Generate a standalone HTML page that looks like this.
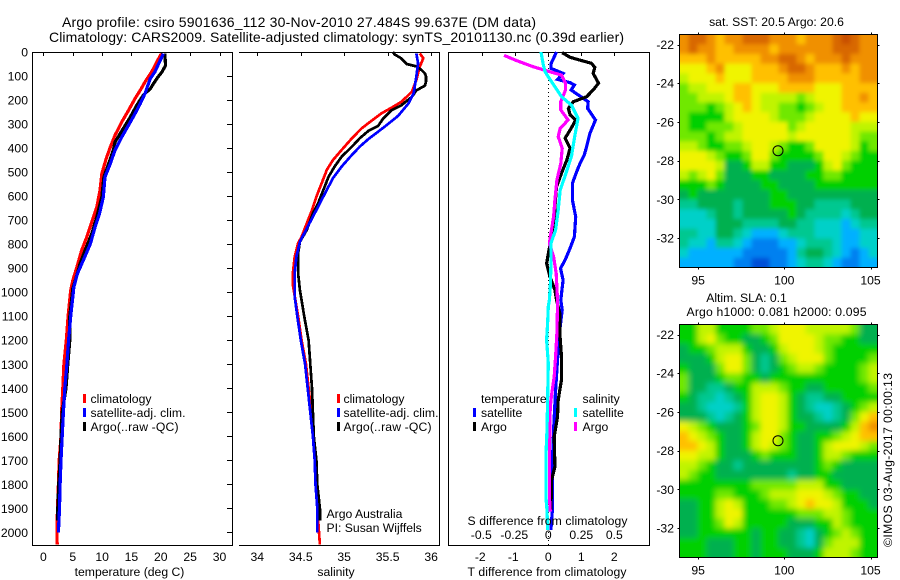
<!DOCTYPE html>
<html>
<head>
<meta charset="utf-8">
<title>Argo profile</title>
<style>
html,body{margin:0;padding:0;background:#fff;}
body{width:900px;height:580px;overflow:hidden;}
svg{display:block;font-family:"Liberation Sans",sans-serif;}
text{fill:#000;font-size:12.2px;}
.ttl{font-size:14px;}
.ln{fill:none;stroke-linejoin:miter;shape-rendering:crispEdges;}
.ax{stroke:#000;stroke-width:1;fill:none;shape-rendering:crispEdges;}
</style>
</head>
<body>
<svg id="fig" xmlns="http://www.w3.org/2000/svg" width="900" height="580" viewBox="0 0 900 580">
<defs>
<clipPath id="clipMap1"><rect x="679.5" y="34.5" width="198" height="233"/></clipPath>
<clipPath id="clipMap2"><rect x="679.5" y="324.5" width="198" height="233"/></clipPath>
<filter id="softSst" x="-10%" y="-10%" width="120%" height="120%"><feGaussianBlur stdDeviation="2"/></filter>
<filter id="softSla" x="-10%" y="-10%" width="120%" height="120%"><feGaussianBlur stdDeviation="3"/></filter>
</defs>
<rect width="900" height="580" fill="#fff"/>

<text class="ttl" x="62" y="27" textLength="474">Argo profile: csiro 5901636_112 30-Nov-2010 27.484S 99.637E (DM data)</text>
<text class="ttl" x="49" y="42" textLength="575">Climatology: CARS2009. Satellite-adjusted climatology: synTS_20101130.nc (0.39d earlier)</text>

<g id="panelT"></g>
<g id="panelS"></g>
<g id="panelD"></g>
<g id="map1"></g>
<g id="map2"></g>

<text x="129.5" y="576" text-anchor="middle">temperature (deg C)</text>
<text x="336" y="576" text-anchor="middle">salinity</text>
<text x="547" y="576" text-anchor="middle" textLength="159">T difference from climatology</text>
<text x="547.5" y="525" text-anchor="middle" textLength="160">S difference from climatology</text>

<g>
<rect x="83" y="394" width="3" height="9" fill="#f00"/>
<rect x="83" y="408" width="3" height="9" fill="#00f"/>
<rect x="83" y="422" width="3" height="9" fill="#000"/>
<text x="90.5" y="403">climatology</text>
<text x="90.5" y="417" textLength="95">satellite-adj. clim.</text>
<text x="90.5" y="431" textLength="88">Argo(..raw -QC)</text>
</g>
<g>
<rect x="337" y="394" width="3" height="9" fill="#f00"/>
<rect x="337" y="408" width="3" height="9" fill="#00f"/>
<rect x="337" y="422" width="3" height="9" fill="#000"/>
<text x="343.5" y="403">climatology</text>
<text x="343.5" y="417" textLength="95">satellite-adj. clim.</text>
<text x="343.5" y="431" textLength="88">Argo(..raw -QC)</text>
<text x="326.5" y="518">Argo Australia</text>
<text x="326.5" y="532">PI: Susan Wijffels</text>
</g>
<g>
<text x="481" y="403">temperature</text>
<rect x="473" y="408" width="3" height="9" fill="#00f"/>
<rect x="473" y="422" width="3" height="9" fill="#000"/>
<text x="481" y="417">satellite</text>
<text x="481" y="431">Argo</text>
<text x="582.5" y="403">salinity</text>
<rect x="574" y="408" width="3" height="9" fill="#0ff"/>
<rect x="574" y="422" width="3" height="9" fill="#f0f"/>
<text x="582.5" y="417">satellite</text>
<text x="582.5" y="431">Argo</text>
</g>

<text x="776.5" y="26" text-anchor="middle">sat. SST: 20.5 Argo: 20.6</text>
<text x="746.5" y="302" text-anchor="middle">Altim. SLA: 0.1</text>
<text x="776.5" y="316" text-anchor="middle" textLength="180">Argo h1000: 0.081 h2000: 0.095</text>
<text transform="translate(892,547) rotate(-90)" textLength="174">©IMOS 03-Aug-2017 00:00:13</text>
</svg>

<script>
// ---------- depth axis ----------
const depthTicks = [0,100,200,300,400,500,600,700,800,900,1000,1100,1200,1300,1400,1500,1600,1700,1800,1900,2000];

// ---------- temperature panel (deg C) ----------
const tempTicks = [0,5,10,15,20,25,30];
const climDepth = [7,42,83,125,159,194,243,291,347,396,444,507,576,645,708,770,826,895,951,992,1100,1200,1300,1400,1500,1600,1700,1800,1900,2000,2050];
const climTemp = [20.1,19.3,18.45,17.3,16.5,15.6,14.5,13.35,12.2,11.4,10.7,9.95,9.65,9.1,8.25,7.4,6.5,5.7,5,4.65,4.2,3.9,3.5,3.3,3.1,3,2.7,2.55,2.4,2.3,2.35];
const satDepth = [7,35,83,111,173,215,257,305,354,409,465,520,604,673,729,798,867,923,978,1100,1200,1300,1400,1500,1600,1700,1800,1900,2000];
const satTemp = [20.45,19.9,19,18.2,17.3,16.5,15.6,14.5,13.35,12.2,11.4,10.5,10.2,9.55,8.8,8,6.8,5.8,5.2,4.65,4.3,4,3.65,3.4,3.2,3,2.85,2.75,2.55];
const argoTDepth = [7,56,83,111,153,180,222,271,319,375,409,465,520,604,687,756,826,881,937,985,1100,1200,1300,1400,1500,1600,1700,1800,1900,1950];
const argoTemp = [20.7,20.8,20.2,19.3,18.2,17,15.9,14.8,13.6,12.2,11.9,11.1,10.3,9.95,9.1,8.25,7.1,6.25,5.6,5,4.5,4.5,4.15,3.85,3.2,3,2.85,2.6,2.45,2.4];

// ---------- salinity panel ----------
const salTicks = [34,34.5,35,35.5,36];
const salTickLabels = ['34','34.5','35','35.5','36'];
const climSDepth = [6,26,61,117,165,207,235,255,290,318,359,408,450,491,547,602,658,713,769,797,852,921,970,1100,1200,1300,1400,1500,1600,1700,1800,1900,2000,2050];
const climSal = [35.87,35.91,35.87,35.83,35.78,35.66,35.53,35.43,35.3,35.2,35.09,34.97,34.87,34.8,34.74,34.68,34.63,34.57,34.51,34.47,34.43,34.41,34.41,34.47,34.51,34.56,34.59,34.62,34.65,34.67,34.68,34.69,34.71,34.72];
const satSDepth = [6,47,103,172,214,266,304,332,362,394,436,477,526,588,644,686,734,790,852,921,1019,1100,1200,1300,1400,1500,1600,1700,1800,1900,2000];
const satSal = [35.83,35.85,35.83,35.8,35.74,35.62,35.49,35.39,35.28,35.18,35.07,34.97,34.87,34.78,34.7,34.64,34.57,34.49,34.45,34.43,34.43,34.46,34.5,34.55,34.58,34.61,34.64,34.66,34.67,34.69,34.69];
const argoSDepth = [0,10,25,50,60,75,90,100,125,140,160,186,221,241,276,308,328,359,394,436,477,519,575,630,672,741,790,838,921,991,1100,1200,1300,1400,1500,1600,1700,1800,1900,1950];
const argoSal = [35.56,35.58,35.65,35.72,35.83,35.89,35.93,35.94,35.94,35.93,35.83,35.78,35.66,35.55,35.45,35.39,35.28,35.18,35.09,34.97,34.89,34.82,34.76,34.7,34.64,34.57,34.49,34.47,34.47,34.49,34.54,34.59,34.61,34.63,34.64,34.65,34.68,34.69,34.72,34.72];

// ---------- difference panel ----------
const tDiffTicks = [-2,-1,0,1,2];
const sDiffTicks = [-0.5,-0.25,0,0.25,0.5];
const sDiffTickLabels = ['-0.5','-0.25','0','0.25','0.5'];
const dtSatDepth = [0,50,68,89,114,128,137,158,179,207,235,283,339,394,429,464,498,547,616,686,769,817,866,901,949,1032,1074,1157,1282,1408,1546,1685,1893,1990];
const dtSat = [0.25,0.08,0.08,0.45,0.28,0.66,0.79,0.69,0.91,1.21,1.19,1.43,1.26,1.16,1.09,0.96,0.86,0.73,0.73,0.83,0.79,0.66,0.51,0.37,0.45,0.38,0.42,0.35,0.28,0.22,0.17,0.13,0.13,0.08];
const dtArgoDepth = [3,22,36,47,64,89,130,158,186,207,235,262,283,318,359,401,450,505,561,644,713,769,824,880,935,991,1032,1088,1171,1268,1365,1408,1449,1518,1602,1726,1782,1907];
const dtArgo = [0.42,0.66,1.01,1.31,1.41,1.36,1.52,1.36,1.16,0.76,0.61,0.66,0.83,0.69,0.51,0.66,0.56,0.4,0.25,0.2,0.18,0.1,0.02,-0.05,0.05,0.2,0.25,0.35,0.35,0.4,0.4,0.35,0.3,0.28,0.18,0.2,0.1,0.08];
const dsSatDepth = [0,47,82,124,186,221,276,352,436,519,575,658,741,797,894,977,1032,1060,1130,1199,1296,1449,1574,1685,1851,1907,1990];
const dsSat = [-0.055,-0.04,-0.025,0.025,0.1,0.175,0.225,0.2,0.175,0.125,0.09,0.075,0.055,0.02,0.02,0.015,0.008,0,-0.005,-0.013,0,-0.005,-0.01,-0.018,-0.018,-0.01,-0.005];
const dsArgoDepth = [14,36,61,78,96,130,158,207,241,283,318,352,401,464,533,616,686,755,797,852,922,1032,1060,1171,1268,1352,1449,1505,1685,1851,1914];
const dsArgo = [-0.335,-0.24,-0.115,-0.015,0.1,0.13,0.13,0.095,0.095,0.15,0.09,0.075,0.105,0.095,0.065,0.05,0.04,0.02,0.008,0.04,0.06,0.07,0.07,0.065,0.055,0.045,0.02,0.013,0.008,0.008,0.015];

// ---------- maps ----------
const lonTicks = [95,100,105];
const latTicks = [-22,-24,-26,-28,-30,-32];
const argoLon = [99.637];
const argoLat = [-27.484];
const sstRows = [
[11,12,12,11,10,11,11,12,12,12,11,11,11,10,11,11,11,12,13,12,11,11],
[11,12,11,11,10,10,11,11,11,11,10,11,11,11,11,11,11,12,12,12,11,11],
[10,10,10,11,10,10,10,10,10,11,11,12,12,11,10,11,11,11,12,11,11,11],
[9,9,9,10,11,9,9,9,10,10,10,11,12,12,11,10,10,10,11,10,11,11],
[8,9,9,9,10,9,9,9,10,10,10,10,11,11,11,10,10,10,10,10,11,11],
[7,8,8,9,9,9,10,10,9,9,9,10,10,10,10,9,9,9,10,10,10,10],
[7,7,8,8,8,9,10,10,9,8,8,8,8,7,8,9,9,9,10,10,11,10],
[7,7,7,6,7,8,9,10,9,8,8,7,7,6,7,8,9,9,10,10,10,10],
[7,6,6,6,6,8,9,9,9,9,8,7,7,7,8,9,9,9,9,10,9,9],
[7,6,6,7,7,7,8,9,9,9,9,9,7,8,9,9,9,9,9,8,8,8],
[7,7,7,6,7,8,8,9,9,9,9,9,8,9,9,9,9,9,9,8,7,7],
[8,8,7,6,6,7,7,8,9,9,8,7,6,6,7,9,9,9,9,8,6,7],
[9,9,9,8,7,6,6,7,9,9,7,6,6,6,6,7,9,9,8,7,6,6],
[9,9,9,9,8,5,5,6,8,8,6,6,5,5,5,6,8,9,7,6,6,6],
[8,7,8,9,7,5,5,5,6,6,5,5,5,5,6,6,7,7,6,6,6,6],
[6,6,6,7,6,5,5,5,5,6,6,5,5,5,5,6,6,6,6,6,6,6],
[5,6,5,5,5,5,5,5,5,5,6,6,5,5,5,5,5,5,5,5,5,5],
[4,4,5,5,5,5,4,5,5,5,6,6,6,5,5,4,4,4,4,5,5,5],
[3,3,3,4,5,5,4,5,5,5,5,5,6,5,4,4,4,4,3,4,5,5],
[3,3,3,3,5,5,5,4,4,4,4,5,5,4,4,3,3,3,2,3,4,4],
[4,4,3,3,5,5,4,3,2,2,2,3,4,4,4,3,3,3,2,2,3,3],
[4,3,3,2,4,4,3,2,1,1,1,2,2,3,4,4,4,3,2,2,3,3],
[3,2,2,2,2,2,2,1,1,1,1,1,2,4,5,5,4,3,2,1,2,3],
[2,2,2,2,2,2,1,1,0,0,1,1,2,3,4,4,3,2,1,1,2,2]
];
const slaRows = [
[6,6,8,8,6,6,6,6,7,7,8,9,9,9,8,8,8,8,8,7,5,5],
[6,6,8,9,7,6,6,5,5,6,7,9,9,9,9,8,7,7,6,6,5,5],
[5,6,6,7,8,8,8,6,5,5,6,8,9,9,9,8,7,6,6,6,6,6],
[5,5,5,6,8,9,9,7,5,4,5,7,8,9,9,9,7,6,6,6,6,7],
[6,5,5,5,7,9,9,7,5,4,5,6,7,8,8,7,6,6,6,6,7,8],
[7,5,5,5,6,7,7,6,6,5,6,6,6,6,6,6,6,6,6,6,7,8],
[7,5,5,4,4,5,6,6,8,8,8,7,6,6,5,5,6,6,6,6,6,7],
[6,5,4,4,3,4,5,6,8,9,9,8,6,5,4,4,5,5,6,6,6,6],
[5,5,4,3,3,3,4,6,8,9,9,8,6,5,4,3,3,4,5,6,7,8],
[5,5,5,4,3,4,5,6,8,9,9,8,6,5,5,4,3,4,5,7,9,10],
[9,8,7,6,5,5,5,6,7,9,9,8,6,6,5,5,5,5,6,8,10,11],
[10,9,8,7,6,5,5,6,8,9,9,7,6,5,5,6,6,7,8,9,10,10],
[10,10,9,8,6,5,5,6,8,9,8,7,6,5,5,6,8,9,9,9,8,7],
[9,9,8,8,6,5,5,5,6,7,6,6,6,5,5,6,8,8,7,6,6,6],
[8,8,7,6,5,5,4,5,5,5,5,5,5,5,5,6,7,6,5,5,5,5],
[8,7,6,6,5,5,5,5,5,5,5,5,4,5,5,6,6,5,5,5,5,5],
[6,6,6,6,6,6,6,6,7,7,7,7,7,8,8,8,6,6,5,5,5,5],
[6,6,6,6,7,7,6,6,6,7,8,8,8,9,9,9,8,7,6,6,5,5],
[5,5,6,6,8,9,8,6,6,6,7,7,8,9,10,9,9,8,6,6,6,5],
[5,5,6,6,8,9,9,6,6,6,6,6,6,7,7,7,8,8,7,6,6,6],
[5,5,6,6,7,9,8,6,6,6,6,6,5,5,5,6,6,8,7,6,6,6],
[5,5,6,6,6,6,6,6,5,6,6,5,5,4,3,5,6,7,8,7,6,6],
[6,6,6,5,5,5,6,6,5,6,6,5,5,4,3,5,7,8,8,8,6,6],
[6,6,6,5,5,5,6,6,5,6,6,6,5,5,5,6,8,8,8,7,6,6]
];

// ---------- scales ----------
const NS = 'http://www.w3.org/2000/svg';
function yDepth(d){ return 52 + d * 0.2402; }
function xTemp(v){ return 43.4 + v * 5.87; }
function xSal(v){ return 257.3 + (v - 34) * 86.9; }
function xTDiff(v){ return 548.3 + v * 33; }
function xSDiff(v){ return 548.3 + v * 132; }
function xLon(v){ return 784.3 + (v - 100) * 17.24; }
function yLat(v, top){ return top + 10.5 + (-22 - v) * 19.36; }
function levelColor(l){
  const stops = ['#0050d8','#0080f0','#00b0ff','#00d0c8','#00c890','#00b050','#00d000','#70e800','#c0f400','#f0f400','#ffc000','#f09000','#d86800','#c85000'];
  return stops[l];
}
function mk(tag, parent){
  const el = document.createElementNS(NS, tag);
  parent.appendChild(el);
  return el;
}
function path(parent, xs, ds, xf, color, w){
  const el = mk('polyline', parent);
  el.setAttribute('points', xs.map(function(v,i){ return xf(v).toFixed(1)+','+yDepth(ds[i]).toFixed(1); }).join(' '));
  el.setAttribute('class', 'ln');
  el.setAttribute('stroke', color);
  el.setAttribute('stroke-width', w);
  return el;
}
function axisLine(parent, x1, y1, x2, y2){
  const el = mk('line', parent);
  el.setAttribute('x1', x1); el.setAttribute('y1', y1);
  el.setAttribute('x2', x2); el.setAttribute('y2', y2);
  el.setAttribute('class', 'ax');
  return el;
}
function label(parent, x, y, txt, anchor){
  const el = mk('text', parent);
  el.setAttribute('x', x); el.setAttribute('y', y);
  el.setAttribute('text-anchor', anchor || 'middle');
  el.textContent = txt;
  return el;
}

// ---------- temperature panel ----------
const pT = document.getElementById('panelT');
const frameT = mk('path', pT);
frameT.setAttribute('d', 'M32.5 52.5H232.5V545.5H32.5Z');
frameT.setAttribute('class', 'ax');


depthTicks.forEach(function(d){
  const t = axisLine(pT, 227, Math.round(yDepth(d))+0.5, 232, Math.round(yDepth(d))+0.5);
  
  
  const l = label(pT, 28, yDepth(d)+4.5, String(d), 'end');
  
  
});
tempTicks.forEach(function(v){
  const t = axisLine(pT, Math.round(xTemp(v))+0.5, 52, Math.round(xTemp(v))+0.5, 56);
  
  
  const l = label(pT, xTemp(v), 561, String(v));
  
  
});
const lineTClim = path(pT, climTemp, climDepth, xTemp, '#f00', 3.2);


const lineTArgo = path(pT, argoTemp, argoTDepth, xTemp, '#000', 3.2);


const lineTSat = path(pT, satTemp, satDepth, xTemp, '#00f', 3.2);



// ---------- salinity panel ----------
const pS = document.getElementById('panelS');
const frameS = mk('path', pS);
frameS.setAttribute('d', 'M239 52.5H439.5V545.5H239');
frameS.setAttribute('class', 'ax');


salTicks.forEach(function(v, i){
  const t = axisLine(pS, Math.round(xSal(v))+0.5, 52, Math.round(xSal(v))+0.5, 56);
  
  
  const l = label(pS, xSal(v), 561, salTickLabels[i]);
  
  
});
const lineSClim = path(pS, climSal, climSDepth, xSal, '#f00', 2.7);


const lineSArgo = path(pS, argoSal, argoSDepth, xSal, '#000', 2.7);


const lineSSat = path(pS, satSal, satSDepth, xSal, '#00f', 2.7);



// ---------- difference panel ----------
const pD = document.getElementById('panelD');
const frameD = mk('path', pD);
frameD.setAttribute('d', 'M448.5 52.5H649.5V545.5H448.5Z');
frameD.setAttribute('class', 'ax');


const zeroLine = axisLine(pD, Math.round(xTDiff(0))+0.5, 52, Math.round(xTDiff(0))+0.5, 545);
zeroLine.setAttribute('stroke-dasharray', '1 3');


tDiffTicks.forEach(function(v){
  const t = axisLine(pD, Math.round(xTDiff(v))+0.5, 52, Math.round(xTDiff(v))+0.5, 56);
  
  
  const l = label(pD, xTDiff(v) - (v < 0 ? 2 : 0), 561, String(v));
  
  
});
const lineDTSat = path(pD, dtSat, dtSatDepth, xTDiff, '#00f', 3.2);


const lineDTArgo = path(pD, dtArgo, dtArgoDepth, xTDiff, '#000', 3.2);


const lineDSArgo = path(pD, dsArgo, dsArgoDepth, xSDiff, '#f0f', 3.2);


const lineDSSat = path(pD, dsSat, dsSatDepth, xSDiff, '#0ff', 3.2);


sDiffTicks.forEach(function(v, i){
  const l = label(pD, xSDiff(v) - (v < 0 ? 1 : 0), 539, sDiffTickLabels[i]);
  
  
});

// ---------- maps ----------
function drawMap(id, rows, top, clipId, filterId){
  const g = document.getElementById(id);
  const nRows = rows.length, nCols = rows[0].length;
  const left = 679.5, w = 198, h = 233, t0 = top + 0.5;
  const clip = mk('g', g);
  clip.setAttribute('clip-path', 'url(#' + clipId + ')');
  const cells = mk('g', clip);
  cells.setAttribute('filter', 'url(#' + filterId + ')');
  rows.forEach(function(row, r){
    row.forEach(function(val, c){
      let x = left + c * w / nCols, y = t0 + r * h / nRows;
      let cw = w / nCols + 0.5, ch = h / nRows + 0.5;
      if (c === 0) { x -= 14; cw += 14; }
      if (c === nCols - 1) { cw += 14; }
      if (r === 0) { y -= 14; ch += 14; }
      if (r === nRows - 1) { ch += 14; }
      const cell = mk('rect', cells);
      cell.setAttribute('x', x.toFixed(2));
      cell.setAttribute('y', y.toFixed(2));
      cell.setAttribute('width', cw.toFixed(2));
      cell.setAttribute('height', ch.toFixed(2));
      cell.setAttribute('fill', levelColor(val));
      
      
    });
  });
  const box = mk('rect', g);
  box.setAttribute('x', left); box.setAttribute('y', t0);
  box.setAttribute('width', w); box.setAttribute('height', h);
  box.setAttribute('class', 'ax');
  
  
  lonTicks.forEach(function(v){
    const px = Math.round(xLon(v)) + 0.5;
    const t1 = axisLine(g, px, t0 - 2, px, t0);
    
    
    const t2 = axisLine(g, px, t0 + h, px, t0 + h + 2);
    
    
    const l = label(g, xLon(v), top + 250.5, String(v));
    
    
  });
  latTicks.forEach(function(v){
    const py = Math.round(yLat(v, top)) + 0.5;
    const t1 = axisLine(g, left - 2, py, left, py);
    
    
    const t2 = axisLine(g, left + w, py, left + w + 2, py);
    
    
    const l = label(g, 674, yLat(v, top) + 4.5, String(v), 'end');
    
    
  });
  const c = mk('circle', g);
  c.setAttribute('cx', xLon(argoLon[0]).toFixed(1));
  c.setAttribute('cy', yLat(argoLat[0], top).toFixed(1));
  c.setAttribute('r', 5);
  c.setAttribute('fill', 'none');
  c.setAttribute('stroke', '#000');
  c.setAttribute('stroke-width', 1);
  
  
}
drawMap('map1', sstRows, 34, 'clipMap1', 'softSst');
drawMap('map2', slaRows, 324, 'clipMap2', 'softSla');
</script>
</body>
</html>
